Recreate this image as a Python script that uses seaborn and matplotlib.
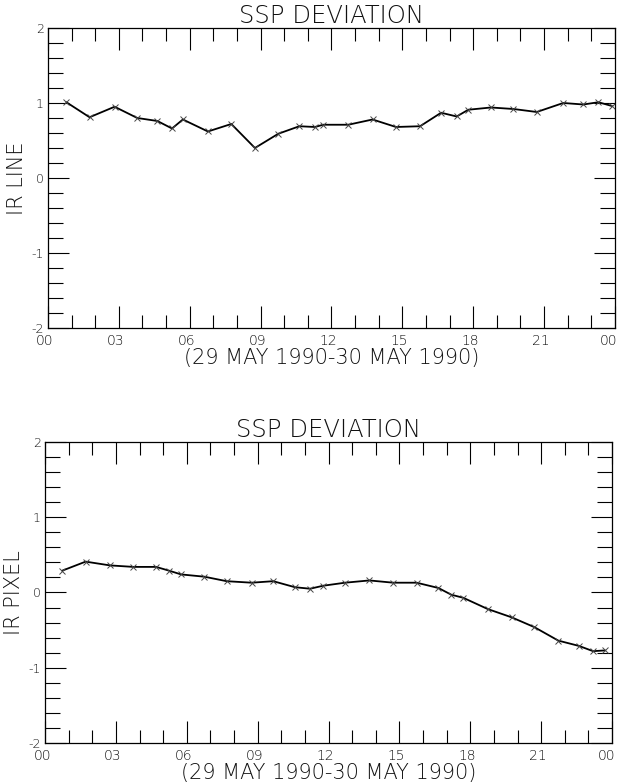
import matplotlib
matplotlib.use("Agg")
import matplotlib.pyplot as plt
import matplotlib.transforms as mtransforms
import seaborn as sns
import pandas as pd
from matplotlib.ticker import MultipleLocator, FixedLocator

# ---- data ----
hours_line = [0.78, 1.76, 2.82, 3.78, 4.63, 5.25, 5.71, 6.77, 7.76, 8.76, 9.75, 10.64,
              11.30, 11.65, 12.71, 13.74, 14.73, 15.75, 16.64, 17.30, 17.79, 18.75,
              19.70, 20.69, 21.81, 22.66, 23.30, 23.87]
ir_line = [1.01, 0.81, 0.95, 0.80, 0.76, 0.66, 0.78, 0.62, 0.72, 0.40, 0.59, 0.69,
           0.68, 0.71, 0.71, 0.78, 0.68, 0.69, 0.87, 0.82, 0.91, 0.94,
           0.92, 0.88, 1.00, 0.98, 1.01, 0.96]

hours_pixel = [0.73, 1.72, 2.75, 3.74, 4.70, 5.25, 5.76, 6.74, 7.69, 8.75, 9.66, 10.58,
               11.22, 11.78, 12.70, 13.73, 14.74, 15.73, 16.65, 17.20, 17.70, 18.74,
               19.75, 20.71, 21.73, 22.60, 23.20, 23.70]
ir_pixel = [0.29, 0.41, 0.36, 0.34, 0.34, 0.29, 0.24, 0.21, 0.15, 0.13, 0.15, 0.07,
            0.05, 0.09, 0.13, 0.16, 0.13, 0.13, 0.06, -0.03, -0.07, -0.22,
            -0.33, -0.46, -0.64, -0.71, -0.78, -0.77]

x_tick_vals = [0, 3, 6, 9, 12, 15, 18, 21, 24]
x_tick_labels = ["00", "03", "06", "09", "12", "15", "18", "21", "00"]
y_tick_vals = [2, 1, 0, -1, -2]
y_tick_labels = ["2", "1", "0", "-1", "-2"]

title = "SSP DEVIATION"
xlabel = "(29 MAY 1990-30 MAY 1990)"
ylabels = ["IR LINE", "IR PIXEL"]

sns.set_style("white")
plt.rcParams['font.family'] = ['DejaVu Sans']
plt.rcParams['font.weight'] = 'light'

TXT = "#111111"

fig = plt.figure(figsize=(6.19, 7.82), dpi=100)
ax_top = fig.add_axes([0.0775, 0.5806, 0.916, 0.3836])
ax_bot = fig.add_axes([0.0727, 0.0499, 0.916, 0.3849])

datasets = [(ax_top, hours_line, ir_line, ylabels[0]),
            (ax_bot, hours_pixel, ir_pixel, ylabels[1])]

shift = mtransforms.ScaledTranslation(-3 / 100, 0, fig.dpi_scale_trans)
shift_last = mtransforms.ScaledTranslation(-6 / 100, 0, fig.dpi_scale_trans)

for ax, hx, vy, yl in datasets:
    df = pd.DataFrame({"hour": hx, "value": vy})
    sns.lineplot(data=df, x="hour", y="value", ax=ax, color="black", linewidth=1.3,
                 marker="x", markersize=4.5, markeredgewidth=0.7,
                 markeredgecolor="#444444", sort=False, estimator=None)
    ax.set_xlim(0, 24)
    ax.set_ylim(-2, 2)
    for s in ax.spines.values():
        s.set_visible(True)
        s.set_color("black")
        s.set_linewidth(0.9)
    ax.xaxis.set_major_locator(FixedLocator(x_tick_vals))
    ax.xaxis.set_minor_locator(MultipleLocator(1))
    ax.set_xticklabels(x_tick_labels)
    ax.yaxis.set_major_locator(FixedLocator(y_tick_vals))
    ax.yaxis.set_minor_locator(MultipleLocator(0.2))
    ax.set_yticklabels(y_tick_labels)
    ax.tick_params(axis="x", which="major", direction="in", length=16, width=0.8,
                   top=True, bottom=True, labelsize=10, pad=4, color="black",
                   labelcolor=TXT)
    ax.tick_params(axis="x", which="minor", direction="in", length=9.4, width=0.8,
                   top=True, bottom=True, color="black")
    ax.tick_params(axis="y", which="major", direction="in", length=15, width=0.8,
                   left=True, right=True, labelsize=9, pad=3, color="black",
                   labelcolor=TXT)
    ax.tick_params(axis="y", which="minor", direction="in", length=10.5, width=0.8,
                   left=True, right=True, color="black")
    labs = ax.get_xticklabels()
    for i, lab in enumerate(labs):
        tr = shift_last if i == len(labs) - 1 else shift
        lab.set_transform(lab.get_transform() + tr)
    ax.set_title(title, fontsize=17.5, pad=2, color=TXT, fontweight="light")
    ax.set_xlabel(xlabel, fontsize=15, labelpad=0, color=TXT, fontweight="light")
    ax.set_ylabel(yl, fontsize=15, labelpad=3, color=TXT, fontweight="light")
    ax.grid(False)

fig.savefig("out.png", dpi=100)
